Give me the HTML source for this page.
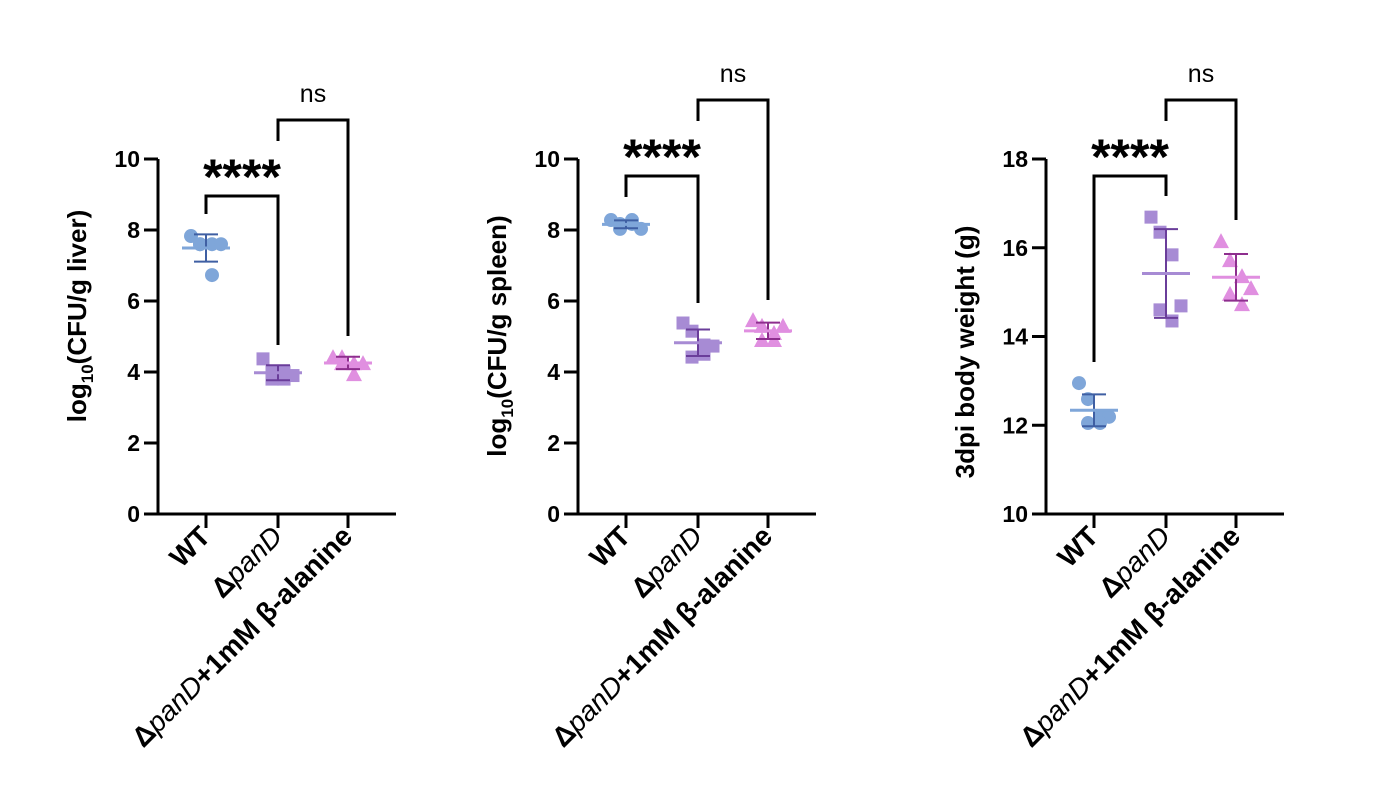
<!DOCTYPE html>
<html><head><meta charset="utf-8"><style>
html,body{margin:0;padding:0;background:#fff}
svg{display:block;font-family:"Liberation Sans",sans-serif}
</style></head><body>
<svg id="c" width="1399" height="811" viewBox="0 0 1399 811"></svg>
<script>
const categories=["WT","ΔpanD","ΔpanD+1mM β-alanine"];
const liverWT=[7.83,7.6,7.6,7.6,7.6,6.73];
const liverPanD=[4.37,4.0,4.0,3.9,3.8,3.8];
const liverAla=[4.42,4.42,4.25,4.25,4.25,3.94];
const spleenWT=[8.28,8.17,8.28,8.03,8.03,8.17];
const spleenPanD=[5.38,5.15,4.76,4.73,4.42,4.5];
const spleenAla=[5.46,5.3,5.1,5.3,4.9,4.9];
const weightWT=[12.95,12.59,12.19,12.19,12.05,12.05];
const weightPanD=[16.69,16.35,15.84,14.69,14.6,14.35];
const weightAla=[16.15,15.72,15.36,15.09,14.96,14.73];
const liverTicks=[0,2,4,6,8,10];
const spleenTicks=[0,2,4,6,8,10];
const weightTicks=[10,12,14,16,18];
const NS="http://www.w3.org/2000/svg";
const svg=document.getElementById('c');
function mk(tag,attrs,parent){const e=document.createElementNS(NS,tag);for(const k in attrs)e.setAttribute(k,attrs[k]);(parent||svg).appendChild(e);return e;}
const fills=["#7fa6d9","#a78bd4","#e08fe0"];
const errc=["#3f5fa3","#6a3d9a","#8e2e8e"];
const meanc=["#7fa6d9","#a78bd4","#e08fe0"];
const jit=[-15,-6,6,15,-6,6];
function mean(a){return a.reduce((s,v)=>s+v,0)/a.length}
function sd(a){const m=mean(a);return Math.sqrt(a.reduce((s,v)=>s+(v-m)*(v-m),0)/(a.length-1))}
function panel(p){
  const g=mk('g',{});
  
  
  const ax=p.ax, y0=514, y1=159;
  const Y=v=>y0-(v-p.min)/(p.max-p.min)*(y0-y1);
  const X=i=>ax+[48,120,190][i];
  const axis=mk('path',{d:`M${ax} ${y1}V${y0}H${ax+238}`,stroke:'#000','stroke-width':3,fill:'none'},g);
  
  
  p.ticks.forEach(t=>{
    mk('line',{x1:ax-14,x2:ax,y1:Y(t),y2:Y(t),stroke:'#000','stroke-width':3},g);
    const tx=mk('text',{x:ax-18,y:Y(t)+8,'text-anchor':'end','font-size':23,'font-weight':'bold'},g);
    tx.textContent=t;
    
    
  });
  const yt=mk('text',{transform:`translate(${ax-72},${p.tc}) rotate(-90)`,'text-anchor':'middle','font-size':26,'font-weight':'bold'},g);
  yt.innerHTML=p.title;
  
  
  categories.forEach((c,i)=>{
    mk('line',{x1:X(i),x2:X(i),y1:y0,y2:y0+14,stroke:'#000','stroke-width':3},g);
    const lt=mk('text',{transform:`translate(${X(i)+6},${y0+24}) rotate(-45)`,'text-anchor':'end','font-size':28,'font-weight':'bold'},g);
    lt.innerHTML=i==0?'WT':i==1?'Δ<tspan font-style="italic" font-weight="normal">panD</tspan>':'Δ<tspan font-style="italic" font-weight="normal">panD</tspan>+1mM β-alanine';
    
    
  });
  p.series.forEach((s,i)=>{
    const m=mean(s),d=sd(s),cx=X(i);
    s.forEach((v,j)=>{
      const x=cx+jit[j],y=Y(v);let e;
      if(i==0)e=mk('circle',{cx:x,cy:y,r:7,fill:fills[i]},g);
      else if(i==1)e=mk('rect',{x:x-6.5,y:y-6.5,width:13,height:13,fill:fills[i]},g);
      else e=mk('polygon',{points:`${x},${y-8} ${x+8},${y+7} ${x-8},${y+7}`,fill:fills[i]},g);
      
      
    });
    mk('line',{x1:cx,x2:cx,y1:Y(m+d),y2:Y(m-d),stroke:errc[i],'stroke-width':2},g);
    mk('line',{x1:cx-12,x2:cx+12,y1:Y(m+d),y2:Y(m+d),stroke:errc[i],'stroke-width':2},g);
    mk('line',{x1:cx-12,x2:cx+12,y1:Y(m-d),y2:Y(m-d),stroke:errc[i],'stroke-width':2},g);
    const ml=mk('line',{x1:cx-24,x2:cx+24,y1:Y(m),y2:Y(m),stroke:meanc[i],'stroke-width':3},g);
    
    
  });
  const b=p.br;
  const b1=mk('path',{d:`M${X(0)} ${b[1]}V${b[0]}H${X(1)}V${b[2]}`,stroke:'#000','stroke-width':3,fill:'none'},g);
  
  
  const st=mk('text',{x:(X(0)+X(1))/2,y:b[0]-2,'text-anchor':'middle','font-size':50,'font-weight':'bold'},g);
  st.textContent='****';
  
  
  const b2=mk('path',{d:`M${X(1)} ${b[3]+21}V${b[3]}H${X(2)}V${b[4]}`,stroke:'#000','stroke-width':3,fill:'none'},g);
  
  
  const ns=mk('text',{x:(X(1)+X(2))/2,y:b[3]-18,'text-anchor':'middle','font-size':25},g);
  ns.textContent='ns';
  
  
}
panel({name:'liver-panel',ax:158,min:0,max:10,ticks:liverTicks,tc:316,title:'log<tspan font-size="17" dy="7">10</tspan><tspan dy="-7">(CFU/g liver)</tspan>',series:[liverWT,liverPanD,liverAla],br:[196,214,345,120,336]});
panel({name:'spleen-panel',ax:578,min:0,max:10,ticks:spleenTicks,tc:336,title:'log<tspan font-size="17" dy="7">10</tspan><tspan dy="-7">(CFU/g spleen)</tspan>',series:[spleenWT,spleenPanD,spleenAla],br:[176,197,303,100,300]});
panel({name:'weight-panel',ax:1046,min:10,max:18,ticks:weightTicks,tc:352,title:'3dpi body weight (g)',series:[weightWT,weightPanD,weightAla],br:[176,362,196,100,220]});
</script>
</body></html>
